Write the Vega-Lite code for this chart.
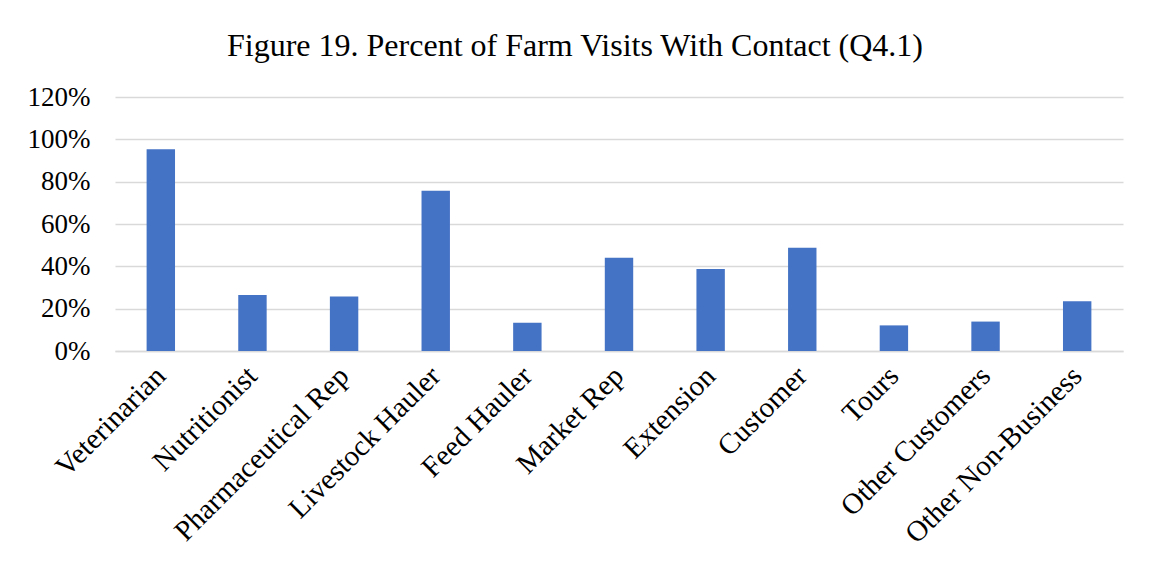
{
  "$schema": "https://vega.github.io/schema/vega-lite/v6.json",
  "autosize": {"type": "none"},
  "padding": {"left": 115, "top": 97, "right": 26, "bottom": 214},
  "width": 1008,
  "height": 254,
  "background": "white",
  "title": {
    "text": "Figure 19. Percent of Farm Visits With Contact (Q4.1)",
    "font": "Liberation Serif",
    "fontSize": 32,
    "fontWeight": "normal",
    "color": "#000000",
    "anchor": "middle",
    "frame": "bounds",
    "offset": 20
  },
  "data": {
    "values": [
      {"contact": "Veterinarian", "share": 0.953},
      {"contact": "Nutritionist", "share": 0.265},
      {"contact": "Pharmaceutical Rep", "share": 0.257},
      {"contact": "Livestock Hauler", "share": 0.757},
      {"contact": "Feed Hauler", "share": 0.134},
      {"contact": "Market Rep", "share": 0.441},
      {"contact": "Extension", "share": 0.387},
      {"contact": "Customer", "share": 0.488},
      {"contact": "Tours", "share": 0.121},
      {"contact": "Other Customers", "share": 0.139},
      {"contact": "Other Non-Business", "share": 0.235}
    ]
  },
  "mark": {"type": "bar", "color": "#4472C4"},
  "encoding": {
    "x": {
      "field": "contact",
      "type": "nominal",
      "sort": null,
      "title": null,
      "scale": {"paddingInner": 0.69, "paddingOuter": 0.345},
      "axis": {
        "labelAngle": -45,
        "labelAlign": "right",
        "labelBaseline": "middle",
        "labelPadding": 20,
        "labelFont": "Liberation Serif",
        "labelFontSize": 29,
        "labelColor": "#000000",
        "labelLimit": 400,
        "labelOverlap": false,
        "ticks": false,
        "domain": true,
        "domainColor": "#d9d9d9",
        "domainWidth": 1.5
      }
    },
    "y": {
      "field": "share",
      "type": "quantitative",
      "title": null,
      "scale": {"domain": [0, 1.2], "nice": false},
      "axis": {
        "values": [0, 0.2, 0.4, 0.6, 0.8, 1.0, 1.2],
        "format": ".0%",
        "labelFont": "Liberation Serif",
        "labelFontSize": 27,
        "labelColor": "#000000",
        "labelPadding": 25,
        "ticks": false,
        "domain": false,
        "grid": true,
        "gridColor": "#d9d9d9",
        "gridWidth": 1.5
      }
    }
  },
  "config": {
    "view": {"stroke": null}
  }
}
